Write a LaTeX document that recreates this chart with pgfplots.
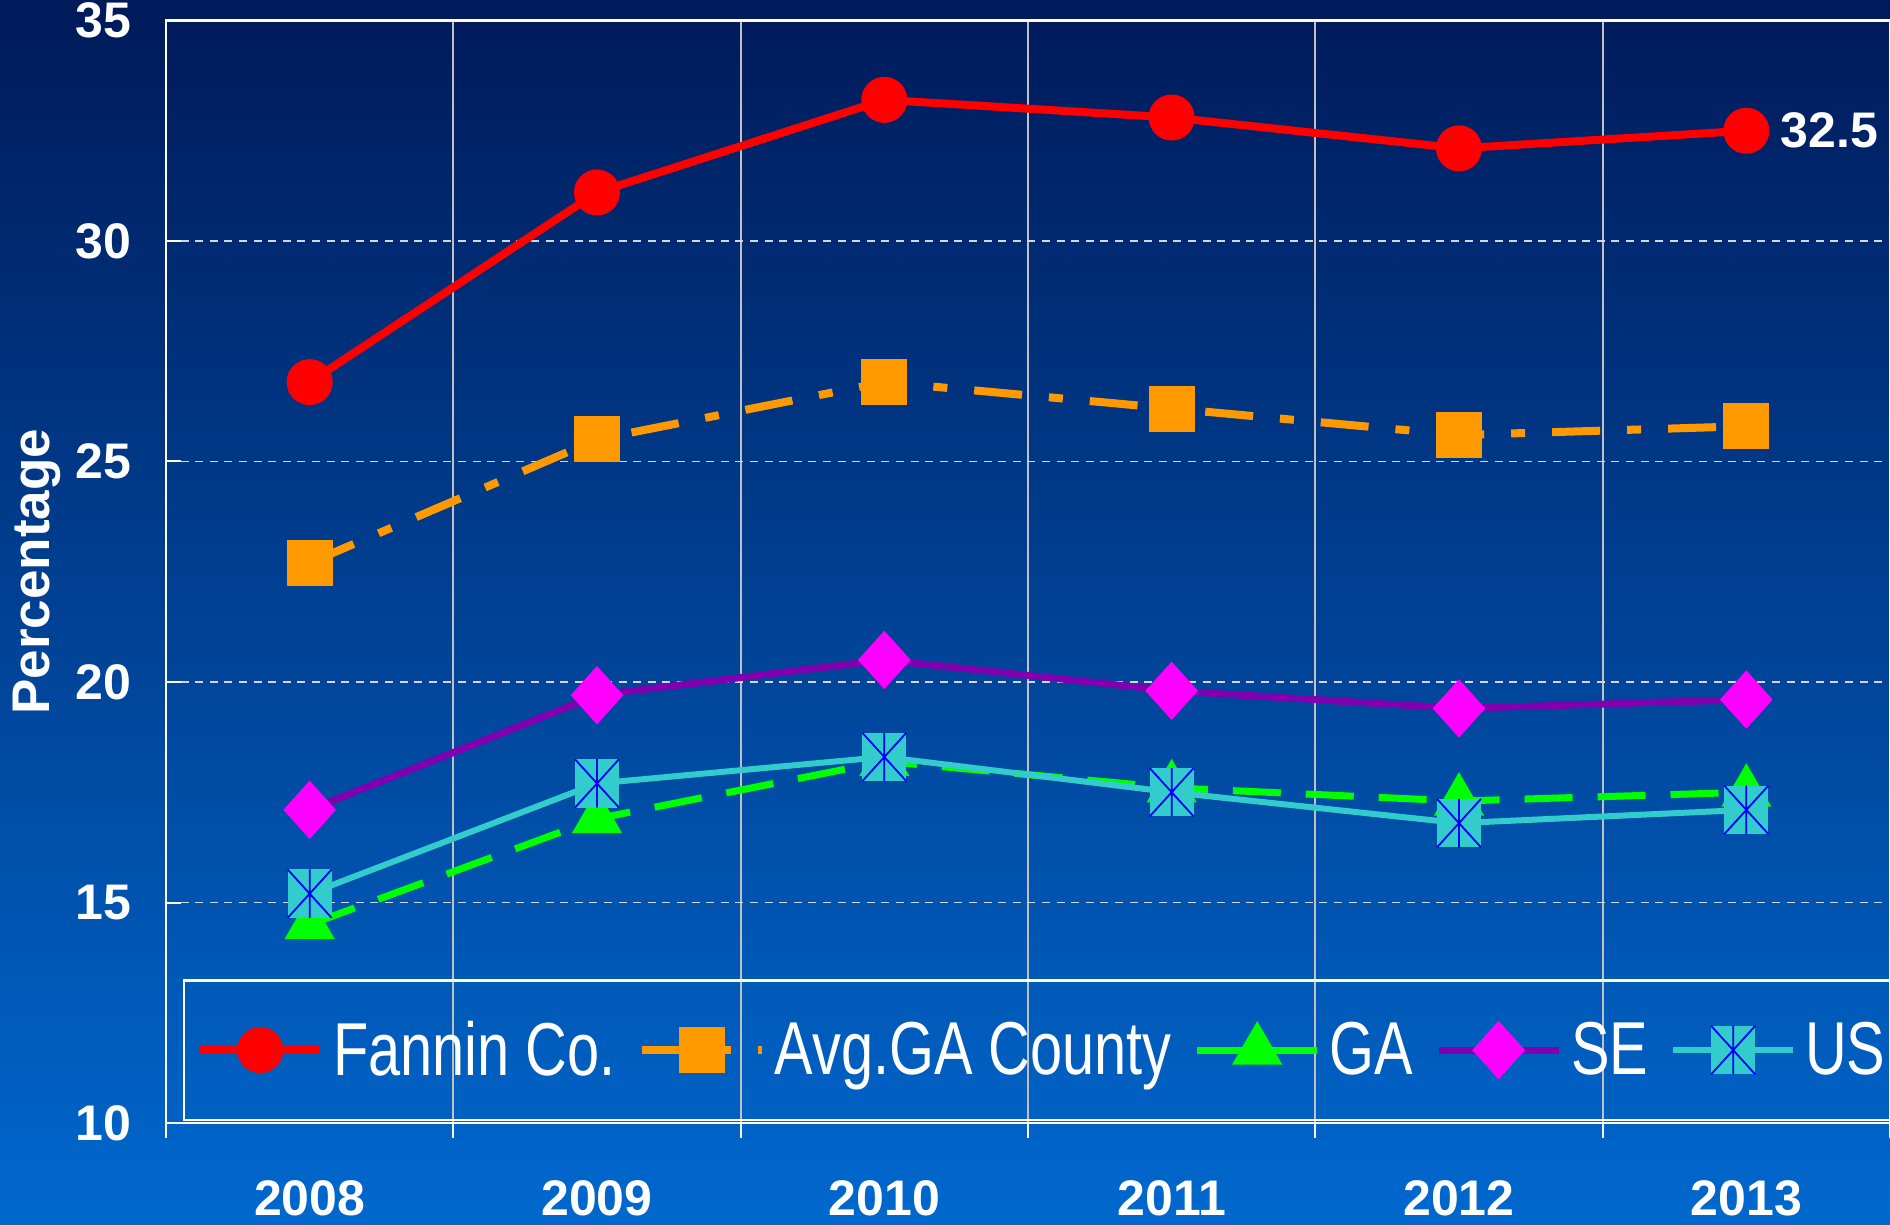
\documentclass[border=0pt]{standalone}
\usepackage{fontspec}
\setmainfont{Liberation Sans}
\newfontfamily\narrowfont{Liberation Sans}[FakeStretch=0.77]
\usepackage{pgfplots}
\pgfplotsset{compat=1.18}

\definecolor{bgtop}{RGB}{0,26,90}
\definecolor{bgbot}{RGB}{0,104,206}
\definecolor{fannred}{RGB}{255,0,0}
\definecolor{avgorange}{RGB}{255,153,0}
\definecolor{gagreen}{RGB}{0,255,0}
\definecolor{sepurple}{RGB}{128,0,176}
\definecolor{semagenta}{RGB}{255,0,255}
\definecolor{uscyan}{RGB}{51,204,204}
\definecolor{usblue}{RGB}{0,0,255}
\definecolor{gridv}{RGB}{192,192,192}
\definecolor{gridh}{RGB}{208,216,232}

% US marker: cyan box with a blue X and a vertical bar
\pgfdeclareplotmark{usbox}{%
  \pgfsetfillcolor{uscyan}%
  \pgfpathrectangle{\pgfpoint{-\pgfplotmarksize}{-1.1\pgfplotmarksize}}{\pgfpoint{2\pgfplotmarksize}{2.2\pgfplotmarksize}}%
  \pgfusepathqfill
  \pgfsetstrokecolor{usblue}%
  \pgfsetlinewidth{0.9bp}%
  \pgfpathmoveto{\pgfpoint{-\pgfplotmarksize}{-1.1\pgfplotmarksize}}%
  \pgfpathlineto{\pgfpoint{\pgfplotmarksize}{1.1\pgfplotmarksize}}%
  \pgfpathmoveto{\pgfpoint{-\pgfplotmarksize}{1.1\pgfplotmarksize}}%
  \pgfpathlineto{\pgfpoint{\pgfplotmarksize}{-1.1\pgfplotmarksize}}%
  \pgfpathmoveto{\pgfpoint{0pt}{-1.1\pgfplotmarksize}}%
  \pgfpathlineto{\pgfpoint{0pt}{1.1\pgfplotmarksize}}%
  \pgfusepathqstroke
}

\begin{document}
\begin{tikzpicture}
\useasboundingbox (-83bp,-51bp) rectangle (862bp,561.5bp);
\shade[top color=bgtop, bottom color=bgbot] (-83bp,-51bp) rectangle (862bp,561.5bp);
\begin{axis}[
    at={(0,0)}, anchor=south west,
    scale only axis, width=862bp, height=551.25bp,
    xmin=-0.5, xmax=5.5, ymin=10, ymax=35,
    axis line style={white, line width=1.2bp},
    xtick={0,...,5},
    xticklabels={2008,2009,2010,2011,2012,2013},
    minor xtick={-0.5,0.5,...,5.5},
    xminorgrids,
    minor x grid style={gridv, line width=1bp},
    major x tick style={draw=none},
    minor x tick style={white, line width=1bp},
    ytick={10,15,...,35},
    ymajorgrids,
    major y grid style={gridh, line width=0.75bp, dash pattern=on 4bp off 3.3bp},
    y tick style={white, line width=1bp},
    major tick length=7.5bp, minor tick length=7.5bp,
    xtick align=outside, ytick align=inside,
    tick pos=left,
    /pgf/number format/assume math mode=true,
    ticklabel style={font=\bfseries\fontsize{25bp}{30bp}\selectfont, text=white, inner sep=0pt},
    yticklabel style={xshift=-17bp},
    xticklabel style={yshift=-21bp},
    ylabel={Percentage},
    ylabel style={at={([xshift=-52.4bp]axis description cs:0,0.5)}, anchor=south, inner sep=0pt,
        font=\bfseries\fontsize{26.5bp}{30bp}\selectfont, text=white},
    legend columns=5,
    legend cell align=left,
    legend style={at={(0.00986,0.0018)}, anchor=south west, draw=white, line width=1.25bp,
        fill=none, text=white, font=\narrowfont\fontsize{37.5bp}{40bp}\selectfont,
        inner xsep=6bp, inner ysep=20.5bp,
        nodes={inner sep=0pt},
        /tikz/every odd column/.append style={column sep=4.5bp},
        /tikz/every even column/.append style={column sep=11bp}},
    legend image code/.code={\draw[mark repeat=2,mark phase=2,#1] plot coordinates {(0bp,0bp) (30bp,0bp) (60bp,0bp)};},
]
\addplot[color=fannred, line width=4bp, mark=*, mark size=9.5bp, mark options={solid}]
  coordinates {(0,26.8)(1,31.1)(2,33.2)(3,32.8)(4,32.1)(5,32.5)};
\addplot[color=avgorange, line width=4bp, dash pattern=on 24bp off 13.5bp on 7bp off 13.5bp,
  mark=square*, mark size=9.5bp, mark options={solid}]
  coordinates {(0,22.7)(1,25.5)(2,26.8)(3,26.2)(4,25.6)(5,25.8)};
\addplot[color=gagreen, line width=3.5bp, dash pattern=on 24bp off 12.5bp,
  mark=triangle*, mark size=11bp, mark options={solid}]
  coordinates {(0,14.5)(1,16.9)(2,18.2)(3,17.6)(4,17.3)(5,17.5)};
\addplot[color=sepurple, line width=3.5bp, mark=diamond*, mark size=12bp,
  mark options={solid, fill=semagenta, draw=semagenta, xscale=1.2}]
  coordinates {(0,17.1)(1,19.7)(2,20.5)(3,19.8)(4,19.4)(5,19.6)};
\addplot[color=uscyan, line width=3bp, mark=usbox, mark size=11bp, mark options={solid}]
  coordinates {(0,15.2)(1,17.7)(2,18.3)(3,17.5)(4,16.8)(5,17.1)};
\legend{Fannin Co., Avg.GA County, GA, SE, US}
\node[anchor=west, inner sep=0pt, text=white, font=\bfseries\fontsize{25bp}{30bp}\selectfont]
  at ([xshift=17bp]axis cs:5,32.5) {32.5};
\end{axis}
\end{tikzpicture}
\end{document}
